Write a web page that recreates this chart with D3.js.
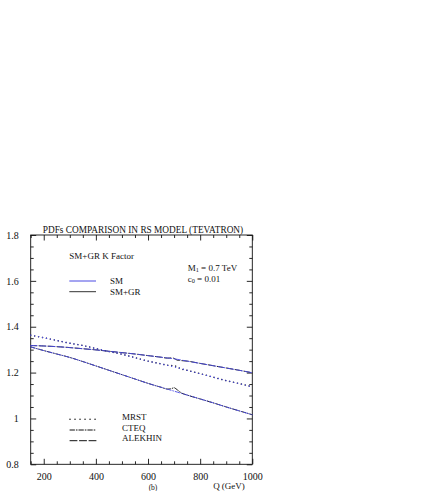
<!DOCTYPE html>
<html>
<head>
<meta charset="utf-8">
<script src="https://cdn.jsdelivr.net/npm/d3@7"></script>
<style>
  body { margin: 0; background: #fff; }
  svg { display: block; }
  text { font-family: "Liberation Serif", "DejaVu Serif", serif; fill: #111; }
  .axis path, .axis line { stroke: #111; stroke-width: 0.9; }
  .axis text { font-size: 10px; font-family: "Liberation Serif", serif; }
</style>
</head>
<body>
<svg id="chart" width="436" height="491"></svg>
<script>
// Q grid (GeV) for the SM curves
var qGrid = [150, 200, 250, 300, 350, 400, 450, 500, 550, 600, 650, 700, 750, 800, 850, 900, 950, 1000];

// K factors, SM only
var mrstSM    = [1.363, 1.352, 1.340, 1.328, 1.318, 1.305, 1.292, 1.280, 1.265, 1.250, 1.238, 1.225, 1.210, 1.195, 1.180, 1.165, 1.152, 1.138];
var cteqSM    = [1.312, 1.296, 1.281, 1.266, 1.248, 1.229, 1.210, 1.191, 1.172, 1.153, 1.136, 1.119, 1.102, 1.085, 1.068, 1.050, 1.033, 1.016];
var alekhinSM = [1.318, 1.316, 1.313, 1.309, 1.304, 1.299, 1.293, 1.287, 1.281, 1.274, 1.267, 1.260, 1.250, 1.240, 1.230, 1.220, 1.210, 1.199];

// SM+GR: finer grid near the M1 = 700 GeV resonance
var qGridGR     = [150, 200, 250, 300, 350, 400, 450, 500, 550, 600, 650, 675, 690, 700, 712, 730, 750, 800, 850, 900, 950, 1000];
var mrstGR      = [1.363, 1.352, 1.340, 1.328, 1.318, 1.305, 1.292, 1.280, 1.265, 1.250, 1.238, 1.232, 1.231, 1.231, 1.224, 1.215, 1.210, 1.195, 1.180, 1.165, 1.152, 1.138];
var cteqGR      = [1.312, 1.296, 1.281, 1.266, 1.248, 1.229, 1.210, 1.191, 1.172, 1.153, 1.136, 1.128, 1.130, 1.134, 1.125, 1.110, 1.102, 1.085, 1.068, 1.050, 1.033, 1.016];
var alekhinGR   = [1.318, 1.316, 1.313, 1.309, 1.304, 1.299, 1.293, 1.287, 1.281, 1.274, 1.267, 1.263, 1.264, 1.262, 1.254, 1.252, 1.250, 1.240, 1.230, 1.220, 1.210, 1.199];

var xMajor = [200, 400, 600, 800, 1000];
var xMinor = [150, 250, 300, 350, 450, 500, 550, 650, 700, 750, 850, 900, 950];
var yMajor = [0.8, 1, 1.2, 1.4, 1.6, 1.8];
var yMinor = [0.85, 0.9, 0.95, 1.05, 1.1, 1.15, 1.25, 1.3, 1.35, 1.45, 1.5, 1.55, 1.65, 1.7, 1.75];

var pdfNames = ["MRST", "CTEQ", "ALEKHIN"];
var dashes = { MRST: "0.01,4", CTEQ: "4.5,1.8,0.8,1.8", ALEKHIN: "6.5,2.5" };
var widths = { MRST: 1.5, CTEQ: 1, ALEKHIN: 1 };
var offsets = { MRST: 0, CTEQ: 0.7, ALEKHIN: 0.7 };

var box = { left: 30.7, right: 252.3, top: 235, bottom: 464.3 };

var x = d3.scaleLinear().domain([150, 1000]).range([box.left, box.right]);
var y = d3.scaleLinear().domain([0.8, 1.8]).range([box.bottom, box.top]);

var svg = d3.select("#chart");

// frame
svg.append("rect")
    .attr("x", box.left).attr("y", box.top)
    .attr("width", box.right - box.left).attr("height", box.bottom - box.top)
    .attr("fill", "none").attr("stroke", "#111").attr("stroke-width", 0.9);

function fmtY(d) { return d === 1 ? "1" : d3.format(".1f")(d); }

// major ticks, inward, all four sides
svg.append("g").attr("class", "axis")
    .attr("transform", "translate(0," + box.bottom + ")")
    .call(d3.axisBottom(x).tickValues(xMajor).tickSizeInner(-5.5).tickSizeOuter(0).tickPadding(8.5).tickFormat(d3.format("d")));
svg.append("g").attr("class", "axis")
    .attr("transform", "translate(0," + box.top + ")")
    .call(d3.axisTop(x).tickValues(xMajor).tickSizeInner(-5.5).tickSizeOuter(0).tickFormat(""));
svg.append("g").attr("class", "axis")
    .attr("transform", "translate(" + box.left + ",0)")
    .call(d3.axisLeft(y).tickValues(yMajor).tickSizeInner(-5.5).tickSizeOuter(0).tickPadding(12).tickFormat(fmtY));
svg.append("g").attr("class", "axis")
    .attr("transform", "translate(" + box.right + ",0)")
    .call(d3.axisRight(y).tickValues(yMajor).tickSizeInner(-5.5).tickSizeOuter(0).tickFormat(""));

// minor ticks
svg.append("g").attr("class", "axis")
    .attr("transform", "translate(0," + box.bottom + ")")
    .call(d3.axisBottom(x).tickValues(xMinor).tickSizeInner(-3).tickSizeOuter(0).tickFormat(""));
svg.append("g").attr("class", "axis")
    .attr("transform", "translate(0," + box.top + ")")
    .call(d3.axisTop(x).tickValues(xMinor).tickSizeInner(-3).tickSizeOuter(0).tickFormat(""));
svg.append("g").attr("class", "axis")
    .attr("transform", "translate(" + box.left + ",0)")
    .call(d3.axisLeft(y).tickValues(yMinor).tickSizeInner(-3).tickSizeOuter(0).tickFormat(""));
svg.append("g").attr("class", "axis")
    .attr("transform", "translate(" + box.right + ",0)")
    .call(d3.axisRight(y).tickValues(yMinor).tickSizeInner(-3).tickSizeOuter(0).tickFormat(""));

svg.selectAll(".axis path.domain").remove();

// curves
var line = d3.line()
    .x(function (d) { return x(d[0]); })
    .y(function (d) { return y(d[1]); })
    .curve(d3.curveMonotoneX);

var gr = { MRST: mrstGR, CTEQ: cteqGR, ALEKHIN: alekhinGR };
var sm = { MRST: mrstSM, CTEQ: cteqSM, ALEKHIN: alekhinSM };

var curves = svg.append("g").attr("fill", "none").attr("stroke-linecap", "round");
pdfNames.forEach(function (name) {
    curves.append("path")
        .attr("d", line(d3.zip(qGridGR, gr[name])))
        .attr("stroke", "#222").attr("stroke-width", widths[name])
        .attr("stroke-dasharray", dashes[name])
        .attr("stroke-dashoffset", offsets[name]);
    curves.append("path")
        .attr("d", line(d3.zip(qGrid, sm[name])))
        .attr("stroke", "#4b4be3").attr("stroke-width", widths[name] * 0.9)
        .attr("stroke-dasharray", dashes[name]);
});

// texts
function txt(s, tx, ty, size, anchor) {
    return svg.append("text").attr("x", tx).attr("y", ty)
        .attr("font-size", size).attr("text-anchor", anchor || "start").text(s);
}

txt("PDFs COMPARISON IN RS MODEL (TEVATRON)", (box.left + box.right) / 2 + 1.5, 232.5, 9.3, "middle");
txt("SM+GR K Factor", 69.3, 258.5, 9);

var m1 = txt("M", 187.7, 270.5, 9);
m1.append("tspan").attr("dy", 1.8).attr("font-size", 6.3).text("1");
m1.append("tspan").attr("dy", -1.8).text(" = 0.7 TeV");
var c0 = txt("c", 187.7, 281.5, 9);
c0.append("tspan").attr("dy", 1.8).attr("font-size", 6.3).text("0");
c0.append("tspan").attr("dy", -1.8).text(" = 0.01");

// SM / SM+GR legend
var modelKeys = [{ label: "SM", color: "#4b4be3", yy: 281 }, { label: "SM+GR", color: "#333", yy: 291.7 }];
modelKeys.forEach(function (k) {
    svg.append("line").attr("x1", 69.3).attr("x2", 96).attr("y1", k.yy).attr("y2", k.yy)
        .attr("stroke", k.color).attr("stroke-width", 1);
    txt(k.label, 110, k.yy + 3, 9);
});

// PDF legend
var pdfKeyY = { MRST: 419.3, CTEQ: 430, ALEKHIN: 440.7 };
pdfNames.forEach(function (name) {
    svg.append("line").attr("x1", 70).attr("x2", 96).attr("y1", pdfKeyY[name]).attr("y2", pdfKeyY[name])
        .attr("stroke", "#111").attr("stroke-width", widths[name]).attr("stroke-linecap", "round")
        .attr("stroke-dasharray", name === "MRST" ? "0.01,5" : name === "CTEQ" ? "4.5,1.8,0.8,1.8" : "7,2.5");
    txt(name, 122, pdfKeyY[name] + 0.5, 9);
});

txt("(b)", 153, 489.5, 7.5, "middle");
txt("Q (GeV)", 229, 488.5, 9, "middle");
</script>
</body>
</html>
